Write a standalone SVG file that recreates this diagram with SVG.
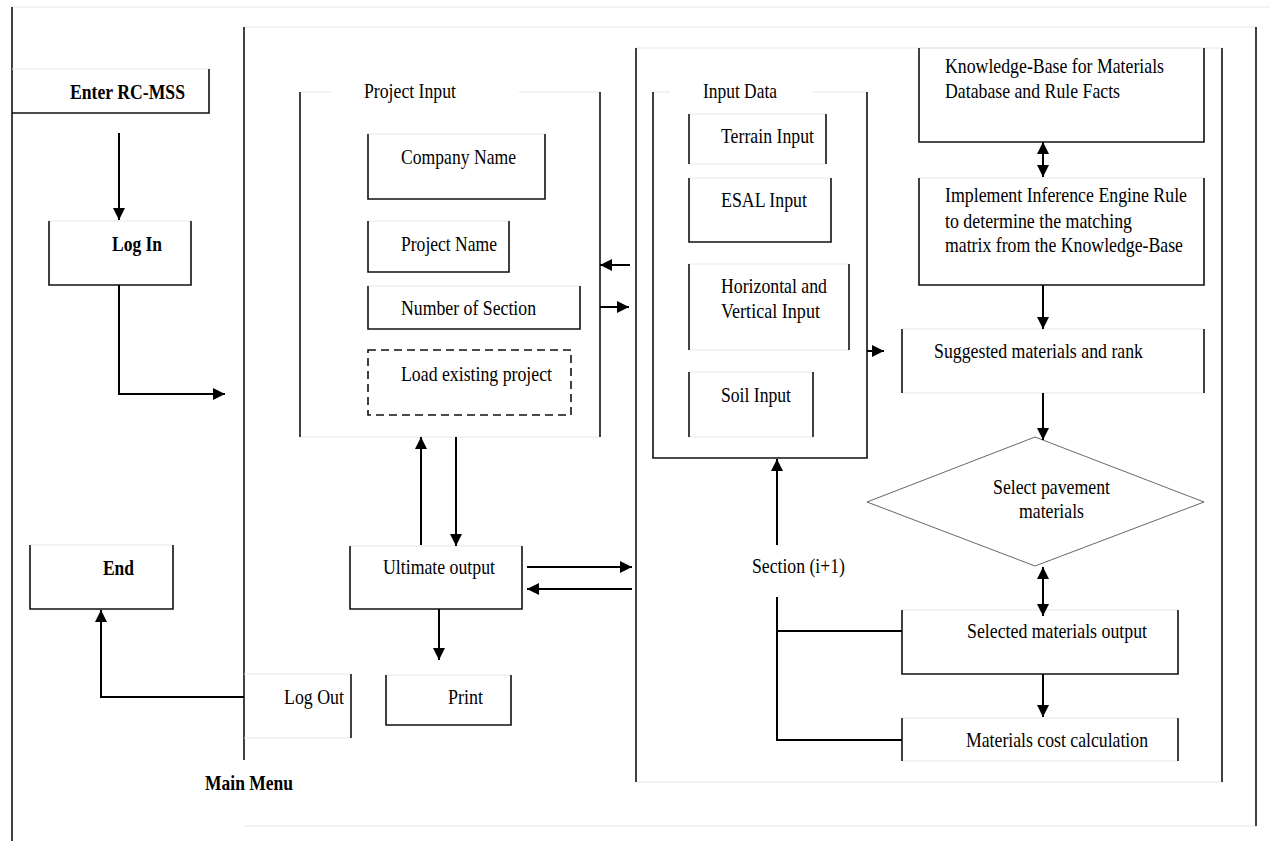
<svg xmlns="http://www.w3.org/2000/svg" width="1270" height="841" viewBox="0 0 1270 841">
<style>
.f{stroke:#e6e6e6;stroke-width:1;fill:none}
.d{stroke:#111;stroke-width:1.6;fill:none}
.c{stroke:#000;stroke-width:2;fill:none}
.t{font-family:"Liberation Serif","Times New Roman",serif;font-size:21px;fill:#000}
.b{font-weight:bold}
</style>
<defs>
<marker id="ah" viewBox="0 0 12 12" refX="12" refY="6" markerWidth="12" markerHeight="12" markerUnits="userSpaceOnUse" orient="auto-start-reverse"><path d="M0,0 L12,6 L0,12 z" fill="#000"/></marker>
</defs>
<rect width="1270" height="841" fill="#fff"/>

<g id="outer-frame">
<line class="f" x1="12" y1="7" x2="1270" y2="7"/>
<line class="d" x1="12" y1="7" x2="12" y2="841"/>
</g>

<g id="main-menu">
<line class="f" x1="244" y1="27" x2="1256" y2="27"/>
<line class="f" x1="244" y1="826" x2="1256" y2="826"/>
<line class="d" x1="244" y1="27" x2="244" y2="760"/>
<line class="d" x1="1256" y1="27" x2="1256" y2="826"/>
<text class="t b" x="205" y="790" textLength="88" lengthAdjust="spacingAndGlyphs">Main Menu</text>
</g>

<g id="processing-panel">
<line class="f" x1="636" y1="48" x2="1222" y2="48"/>
<line class="f" x1="636" y1="782" x2="1222" y2="782"/>
<line class="d" x1="636" y1="48" x2="636" y2="782"/>
<line class="d" x1="1222" y1="48" x2="1222" y2="782"/>
</g>

<g id="enter">
<line class="f" x1="12" y1="69" x2="209" y2="69"/>
<polyline class="d" points="209,69 209,113 12,113"/>
<text class="t b" x="70" y="99" textLength="115" lengthAdjust="spacingAndGlyphs">Enter RC-MSS</text>
</g>

<g id="login">
<line class="f" x1="49" y1="221" x2="191" y2="221"/>
<polyline class="d" points="49,221 49,285 191,285 191,221"/>
<text class="t b" x="112" y="251" textLength="50" lengthAdjust="spacingAndGlyphs">Log In</text>
</g>

<g id="end">
<line class="f" x1="30" y1="545" x2="173" y2="545"/>
<polyline class="d" points="30,545 30,609 173,609 173,545"/>
<text class="t b" x="103" y="575" textLength="31" lengthAdjust="spacingAndGlyphs">End</text>
</g>

<g id="logout">
<line class="f" x1="244" y1="674" x2="351" y2="674"/>
<line class="f" x1="244" y1="738" x2="351" y2="738"/>
<line class="d" x1="351" y1="674" x2="351" y2="738"/>
<text class="t" x="284" y="704" textLength="60" lengthAdjust="spacingAndGlyphs">Log Out</text>
</g>

<g id="project-input">
<line class="f" x1="300" y1="92" x2="332" y2="92"/>
<line class="f" x1="519" y1="92" x2="600" y2="92"/>
<line class="f" x1="300" y1="437" x2="600" y2="437"/>
<line class="d" x1="300" y1="92" x2="300" y2="437"/>
<line class="d" x1="600" y1="92" x2="600" y2="437"/>
<text class="t" x="364" y="98" textLength="92" lengthAdjust="spacingAndGlyphs">Project Input</text>
</g>

<g id="company-name">
<line class="f" x1="368" y1="134" x2="545" y2="134"/>
<polyline class="d" points="368,134 368,199 545,199 545,134"/>
<text class="t" x="401" y="164" textLength="115" lengthAdjust="spacingAndGlyphs">Company Name</text>
</g>

<g id="project-name">
<line class="f" x1="368" y1="221" x2="509" y2="221"/>
<polyline class="d" points="368,221 368,272 509,272 509,221"/>
<text class="t" x="401" y="251" textLength="96" lengthAdjust="spacingAndGlyphs">Project Name</text>
</g>

<g id="number-of-section">
<line class="f" x1="368" y1="286" x2="580" y2="286"/>
<polyline class="d" points="368,286 368,329 580,329 580,286"/>
<text class="t" x="401" y="315" textLength="135" lengthAdjust="spacingAndGlyphs">Number of Section</text>
</g>

<g id="load-existing">
<rect x="368" y="350" width="203" height="65" fill="none" stroke="#111" stroke-width="1.6" stroke-dasharray="8,5"/>
<text class="t" x="401" y="381" textLength="151" lengthAdjust="spacingAndGlyphs">Load existing project</text>
</g>

<g id="ultimate-output">
<line class="f" x1="350" y1="546" x2="522" y2="546"/>
<polyline class="d" points="350,546 350,609 522,609 522,546"/>
<text class="t" x="383" y="574" textLength="112" lengthAdjust="spacingAndGlyphs">Ultimate output</text>
</g>

<g id="print">
<line class="f" x1="386" y1="675" x2="511" y2="675"/>
<polyline class="d" points="386,675 386,725 511,725 511,675"/>
<text class="t" x="448" y="704" textLength="35" lengthAdjust="spacingAndGlyphs">Print</text>
</g>

<g id="input-data">
<line class="f" x1="653" y1="92" x2="670" y2="92"/>
<line class="f" x1="813" y1="92" x2="867" y2="92"/>
<polyline class="d" points="653,92 653,458 867,458 867,92"/>
<text class="t" x="703" y="98" textLength="74" lengthAdjust="spacingAndGlyphs">Input Data</text>
</g>

<g id="terrain-input">
<line class="f" x1="689" y1="114" x2="826" y2="114"/>
<line class="f" x1="689" y1="164" x2="826" y2="164"/>
<line class="d" x1="689" y1="114" x2="689" y2="164"/>
<line class="d" x1="826" y1="114" x2="826" y2="164"/>
<text class="t" x="721" y="143" textLength="93" lengthAdjust="spacingAndGlyphs">Terrain Input</text>
</g>

<g id="esal-input">
<line class="f" x1="689" y1="178" x2="831" y2="178"/>
<polyline class="d" points="689,178 689,242 831,242 831,178"/>
<text class="t" x="721" y="207" textLength="86" lengthAdjust="spacingAndGlyphs">ESAL Input</text>
</g>

<g id="horizontal-vertical-input">
<line class="f" x1="689" y1="264" x2="849" y2="264"/>
<line class="f" x1="689" y1="350" x2="849" y2="350"/>
<line class="d" x1="689" y1="264" x2="689" y2="350"/>
<line class="d" x1="849" y1="264" x2="849" y2="350"/>
<text class="t" x="721" y="293" textLength="106" lengthAdjust="spacingAndGlyphs">Horizontal and</text>
<text class="t" x="721" y="318" textLength="99" lengthAdjust="spacingAndGlyphs">Vertical Input</text>
</g>

<g id="soil-input">
<line class="f" x1="689" y1="372" x2="813" y2="372"/>
<line class="f" x1="689" y1="437" x2="813" y2="437"/>
<line class="d" x1="689" y1="372" x2="689" y2="437"/>
<line class="d" x1="813" y1="372" x2="813" y2="437"/>
<text class="t" x="721" y="402" textLength="70" lengthAdjust="spacingAndGlyphs">Soil Input</text>
</g>

<g id="knowledge-base">
<line class="f" x1="919" y1="48" x2="1204" y2="48"/>
<polyline class="d" points="919,48 919,142 1204,142 1204,48"/>
<text class="t" x="945" y="73" textLength="219" lengthAdjust="spacingAndGlyphs">Knowledge-Base for Materials</text>
<text class="t" x="945" y="98" textLength="175" lengthAdjust="spacingAndGlyphs">Database and Rule Facts</text>
</g>

<g id="inference-engine">
<line class="f" x1="919" y1="178" x2="1204" y2="178"/>
<polyline class="d" points="919,178 919,285 1204,285 1204,178"/>
<text class="t" x="945" y="202" textLength="242" lengthAdjust="spacingAndGlyphs">Implement Inference Engine Rule</text>
<text class="t" x="945" y="228" textLength="187" lengthAdjust="spacingAndGlyphs">to determine the matching</text>
<text class="t" x="945" y="252" textLength="238" lengthAdjust="spacingAndGlyphs">matrix from the Knowledge-Base</text>
</g>

<g id="suggested-materials">
<line class="f" x1="902" y1="329" x2="1204" y2="329"/>
<line class="f" x1="902" y1="393" x2="1204" y2="393"/>
<line class="d" x1="902" y1="329" x2="902" y2="393"/>
<line class="d" x1="1204" y1="329" x2="1204" y2="393"/>
<text class="t" x="934" y="358" textLength="209" lengthAdjust="spacingAndGlyphs">Suggested materials and rank</text>
</g>

<g id="select-pavement">
<polygon points="1035,437 1204,502 1035,566 867,502" fill="none" stroke="#555" stroke-width="0.9"/>
<text class="t" x="993" y="494" textLength="117" lengthAdjust="spacingAndGlyphs">Select pavement</text>
<text class="t" x="1019" y="518" textLength="65" lengthAdjust="spacingAndGlyphs">materials</text>
</g>

<g id="selected-output">
<line class="f" x1="902" y1="610" x2="1178" y2="610"/>
<polyline class="d" points="902,610 902,674 1178,674 1178,610"/>
<text class="t" x="967" y="638" textLength="180" lengthAdjust="spacingAndGlyphs">Selected materials output</text>
</g>

<g id="cost-calculation">
<line class="f" x1="902" y1="718" x2="1178" y2="718"/>
<line class="f" x1="902" y1="761" x2="1178" y2="761"/>
<line class="d" x1="902" y1="718" x2="902" y2="761"/>
<line class="d" x1="1178" y1="718" x2="1178" y2="761"/>
<text class="t" x="966" y="747" textLength="182" lengthAdjust="spacingAndGlyphs">Materials cost calculation</text>
</g>

<g id="section-label">
<text class="t" x="752" y="573" textLength="93" lengthAdjust="spacingAndGlyphs">Section (i+1)</text>
</g>

<g id="connectors">
<line class="c" x1="119" y1="133" x2="119" y2="220" marker-end="url(#ah)"/>
<path class="c" d="M119,285 V394 H225" marker-end="url(#ah)"/>
<path class="c" d="M244,697 H101 V610" marker-end="url(#ah)"/>
<line class="c" x1="630" y1="265" x2="600" y2="265" marker-end="url(#ah)"/>
<line class="c" x1="600" y1="307" x2="629" y2="307" marker-end="url(#ah)"/>
<line class="c" x1="421" y1="545" x2="421" y2="437" marker-end="url(#ah)"/>
<line class="c" x1="456" y1="437" x2="456" y2="546" marker-end="url(#ah)"/>
<line class="c" x1="527" y1="567" x2="632" y2="567" marker-end="url(#ah)"/>
<line class="c" x1="632" y1="589" x2="527" y2="589" marker-end="url(#ah)"/>
<line class="c" x1="439" y1="609" x2="439" y2="660" marker-end="url(#ah)"/>
<line class="c" x1="867" y1="351" x2="884" y2="351" marker-end="url(#ah)"/>
<line class="c" x1="1043" y1="142" x2="1043" y2="177" marker-start="url(#ah)" marker-end="url(#ah)"/>
<line class="c" x1="1043" y1="285" x2="1043" y2="329" marker-end="url(#ah)"/>
<line class="c" x1="1043" y1="393" x2="1043" y2="440" marker-end="url(#ah)"/>
<line class="c" x1="1043" y1="567" x2="1043" y2="616" marker-start="url(#ah)" marker-end="url(#ah)"/>
<line class="c" x1="1043" y1="674" x2="1043" y2="717" marker-end="url(#ah)"/>
<line class="c" x1="777" y1="545" x2="777" y2="459" marker-end="url(#ah)"/>
<path class="c" d="M777,597 V740 H902"/>
<line class="c" x1="777" y1="631" x2="902" y2="631"/>
</g>
</svg>
